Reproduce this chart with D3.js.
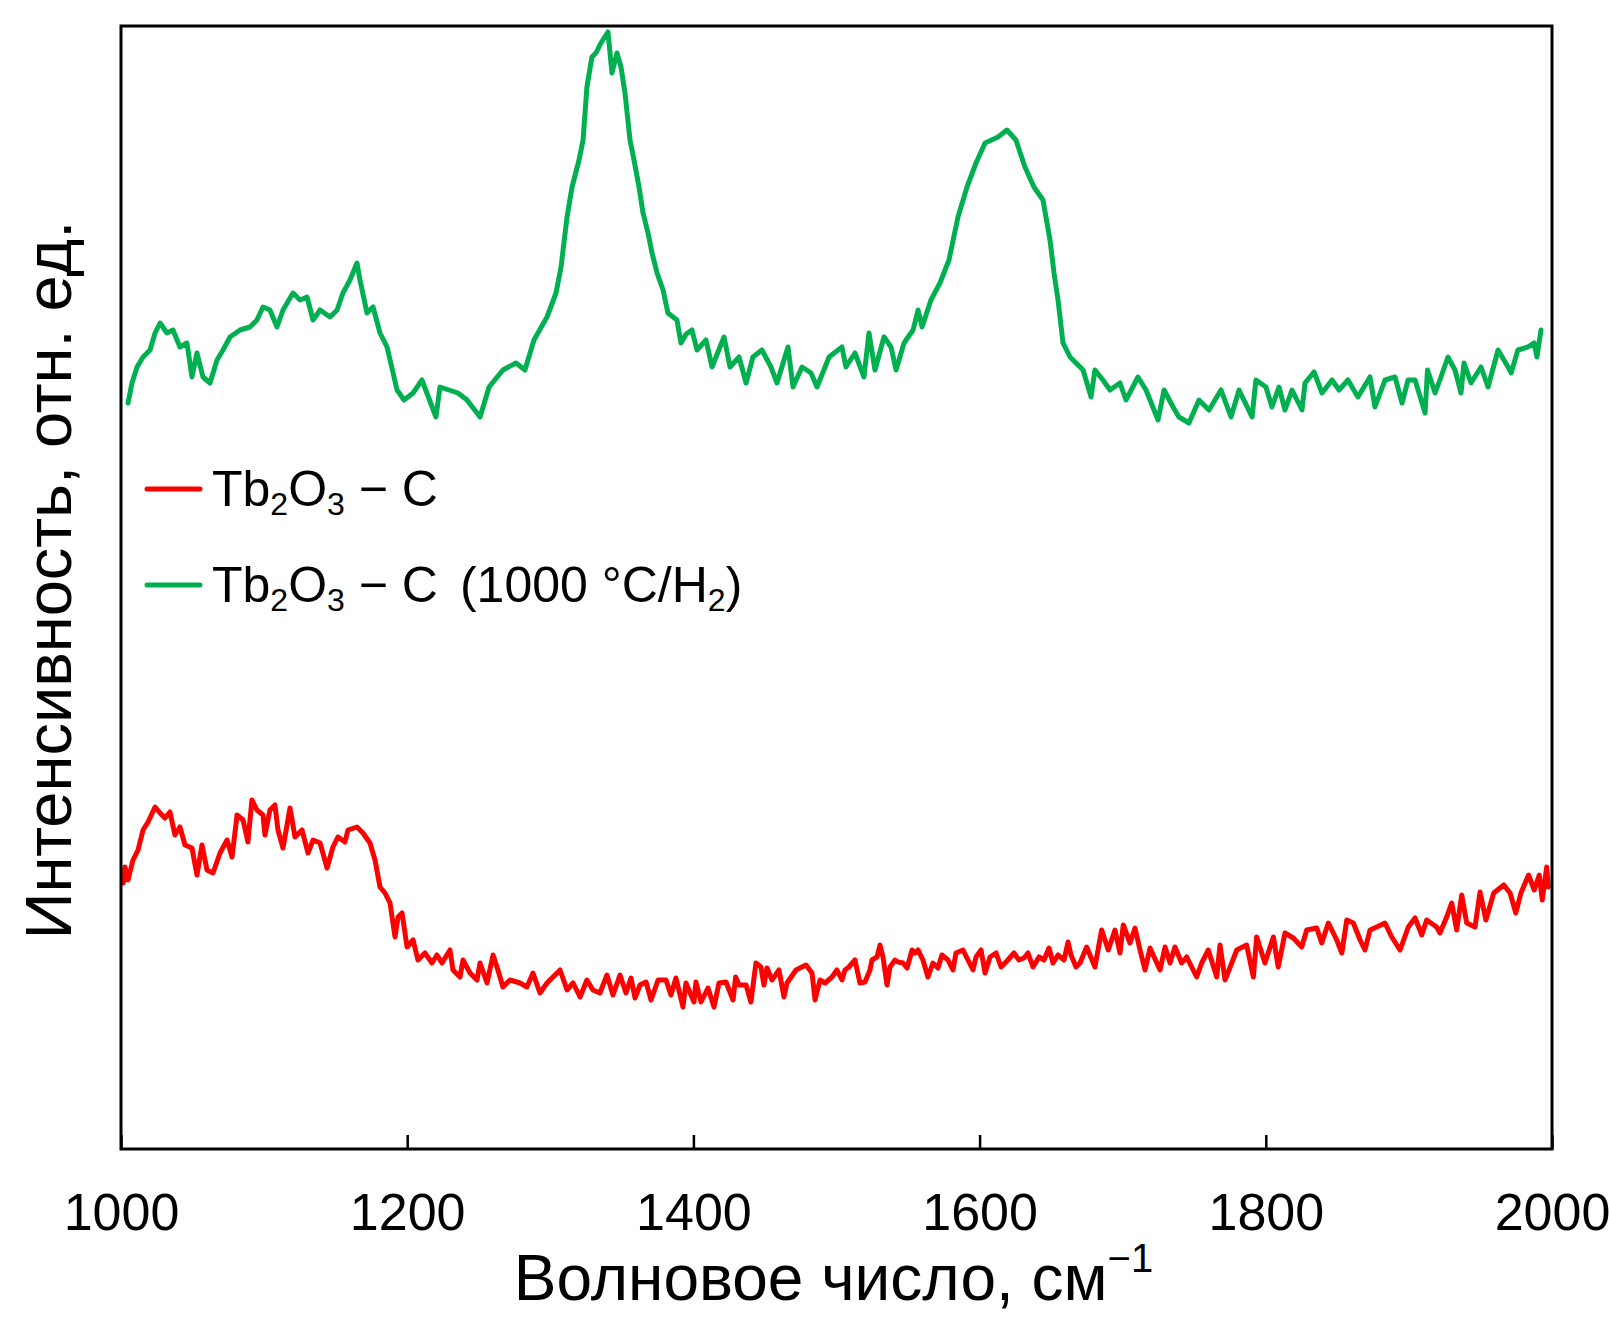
<!DOCTYPE html>
<html>
<head>
<meta charset="utf-8">
<script src="https://cdn.jsdelivr.net/npm/d3@7"></script>
<style>
  body { margin: 0; background: #fff; }
  svg { display: block; }
  text { font-family: "Liberation Sans", Arial, sans-serif; fill: #000; }
</style>
</head>
<body>
<div id="chart"></div>
<script>
// wavenumber ticks, cm^-1
const xTicks = [1000, 1200, 1400, 1600, 1800, 2000];

// Tb2O3 - C (red)
const redWave = [1001.6,1002.8,1004.9,1008.4,1011.9,1015.4,1018.9,1023.8,1027.3,1030.7,1034.2,1037.7,1041.2,1044.7,1049.6,1053.1,1056.6,1060.1,1064.3,1069.2,1074.1,1077.6,1081.1,1085.3,1088.7,1091.5,1095,1099.2,1100.6,1104.1,1107.6,1109.7,1113.2,1118.1,1121.6,1126.5,1130.7,1134.2,1139.1,1144,1148.1,1151.6,1156.5,1158.6,1164.9,1169.1,1174,1177.5,1181,1184.5,1188,1191.5,1193.6,1196.4,1199.9,1204.1,1207.5,1212.4,1217.3,1220.8,1224.3,1229.9,1232,1236.9,1239,1243.9,1248.8,1250.9,1255.8,1260,1263.4,1266.9,1271.8,1278.8,1283.7,1287.9,1292.8,1297.7,1301.9,1306.8,1311.7,1315.9,1320.8,1325.6,1329.8,
  1334.7,1339.6,1343.8,1348.7,1352.9,1356.4,1359.2,1362.7,1366.9,1370.4,1375.3,1380.9,1384.3,1387.8,1392.7,1394.8,1400.4,1401.8,1405.3,1410.2,1414.4,1417.9,1422.8,1427.7,1429.5,1431.9,1436.8,1440.2,1443.7,1447.2,1449.3,1451.4,1454.9,1459.8,1463.3,1465.4,1471.7,1478.7,1482.9,1485,1488.5,1492,1496.9,1500.3,1503.8,1505.9,1508.7,1512.9,1516.4,1519.9,1523.4,1524.8,1528.3,1530.4,1532.5,1535.3,1537.4,1540.9,1543,1546.5,1549.3,1552.8,1554.9,1557,1560.4,1563.9,1567.4,1570.9,1573.7,1577.9,1581.4,1583.5,1588.4,1591.9,1595.4,1597.5,1601,1603.8,1607.3,1611.5,1615,1619.8,1624,1627.5,1631,1633.8,1637.3,1641.5,1645,1648.5,1651.3,1654.8,1659,1661.8,1663.9,1667.4,
  1670.2,1674.8,1680.6,1685.3,1689.9,1694.6,1698.1,1700.4,1705.1,1708.6,1712.1,1715.6,1719.1,1726.1,1729.6,1733.1,1736.5,1741.2,1744.7,1751.7,1755.2,1759.8,1765.7,1768,1771.5,1776.2,1779.7,1786.6,1791.3,1793.6,1799.4,1805.3,1808.7,1813.4,1819.2,1825.1,1828.6,1835.6,1839.1,1843.7,1849.6,1853.1,1856.6,1861.2,1865.9,1869.3,1872.8,1877.5,1883.3,1888,1893.8,1899.6,1904.3,1909,1912.4,1919.4,1921.7,1926.4,1929.9,1933.4,1936.9,1940.4,1946.2,1949.7,1953.8,1959.3,1966.3,1970.7,1974.7,1978.3,1983.6,1987.6,1991.1,1993.2,1996.3,1997.4];
const redInt = [266,282,269,289,299,319,327,342,336,331,337,314,322,304,301,274,304,279,276,296,309,292,334,329,307,349,339,334,314,339,344,319,301,341,312,319,296,309,306,281,302,312,307,319,322,316,306,289,262,256,246,212,232,236,202,209,189,196,186,194,186,199,179,172,189,176,169,186,166,194,179,162,169,166,162,176,156,166,172,179,159,166,152,169,159,
  156,174,154,174,156,171,151,164,167,149,169,169,154,171,142,166,147,167,147,161,142,166,167,149,172,164,164,147,186,182,164,181,169,179,152,166,179,184,176,149,169,166,172,179,169,179,182,189,166,167,179,189,192,204,192,164,182,189,187,186,181,199,196,199,189,172,186,181,194,189,179,196,199,189,179,192,199,176,192,196,182,189,196,189,191,196,182,192,189,201,186,194,189,207,194,182,
  186,202,182,219,199,219,196,224,206,221,199,179,201,179,202,186,202,186,192,172,186,199,172,204,169,186,199,204,172,212,186,212,182,216,211,202,219,221,206,226,209,196,229,226,209,199,219,222,226,212,199,222,231,214,229,222,216,232,246,219,254,226,222,257,229,256,264,256,236,256,274,259,274,249,282,262];

// Tb2O3 - C (1000 °C/H2) (green)
const greenWave = [1004.9,1007.7,1011.2,1015.4,1020.3,1023.8,1027.3,1032.1,1036.3,1041.2,1046.1,1049.6,1053.1,1057.3,1062.2,1067.1,1071.3,1076.2,1083.2,1090.1,1095,1099.2,1104.1,1109,1113.2,1120.2,1125.1,1130,1134.2,1139.1,1146.1,1151,1155.1,1160,1164.9,1167,1171.9,1176.1,1181,1185.9,1192.9,1197.8,1204.1,1210.3,1220.1,1222.9,1235.5,1241.8,1250.9,1257.2,1266.9,1276,1282.3,1288.6,1297.7,1304,1307.5,1311.7,1315.2,1320.1,1322.9,1325.6,1329.1,1331.9,1335.4,1340.3,1343.1,1346.6,1349.4,1352.2,1355.7,1358.5,1362,1364.8,1368.3,1371.1,1374.6,1378.8,1382.2,1388.5,1391.3,1395,
  1399,1402.5,1408.8,1413,1421.4,1425.6,1431.9,1436.8,1441.6,1447.9,1454.2,1458.4,1466.1,1469.6,1475.9,1482.2,1486.4,1494.8,1503.8,1506.6,1512.9,1519.2,1522.7,1526.9,1533.2,1538.1,1541.6,1547.2,1553.5,1557,1559.8,1566,1572.3,1578.6,1584.9,1591.2,1597.5,1603.8,1612.9,1619.1,1625.4,1631.7,1638,1644.3,1649.2,1652,1654.8,1658.3,1663.2,1672.3,
  1677.9,1680.6,1686.2,1691.1,1698.1,1702.3,1710.7,1716.3,1724.7,1728.9,1735.2,1739.3,1746.3,1753.3,1760.3,1768.7,1775.7,1781.3,1790.4,1793.1,1800.1,1804.3,1809.2,1813.4,1818.3,1825.3,1827.4,1833.7,1839.3,1846.3,1851.2,1857.4,1864.4,1872.8,1876.3,1883.3,1890.3,1895.2,1899.4,1904.3,1911.3,1913,1918.3,1922.4,1927.3,1932.2,1936.4,1938.5,1943.4,1950.4,1955.3,1962.3,1969.3,1971.4,1976.2,1983.2,1987.4,1989.5,1992.3];
const greenInt = [746,766,782,792,799,816,826,816,819,802,806,772,796,772,766,789,799,812,819,822,829,842,839,822,839,856,849,852,829,839,832,839,856,869,886,869,836,842,816,802,759,749,756,769,732,762,756,749,732,762,779,786,779,809,832,856,882,932,962,989,1009,1062,1092,1096,1106,1117,1076,1096,1082,1056,1009,989,962,936,916,896,876,859,836,829,806,815,
  819,799,809,782,812,782,792,766,792,799,782,766,802,762,782,776,762,792,802,782,796,772,816,779,812,802,779,806,819,839,822,849,866,889,932,962,986,1006,1012,1019,1009,982,962,949,909,876,849,806,792,779,
  752,779,769,759,766,749,772,759,729,759,742,732,726,749,739,759,732,759,732,769,762,742,762,739,759,739,766,777,756,769,759,769,752,772,742,769,772,746,769,769,736,779,756,772,792,779,756,786,766,782,762,799,782,776,799,802,806,792,819];

const legendColors = ['#ff0000', '#00b050'];
const legendSuffix = ['', '(1000 °C/H'];

window.ramanChart = (() => {
    const W = 1609, H = 1317;
    const margin = { left: 121, right: 57, top: 26, bottom: 168 };
    const innerW = W - margin.left - margin.right;
    const innerH = H - margin.top - margin.bottom;

    function render() {
        const svg = d3.select('#chart').append('svg')
            .attr('width', W)
            .attr('height', H);

        svg.append('rect').attr('width', W).attr('height', H).attr('fill', '#fff');

        const x = d3.scaleLinear().domain([1000, 2000]).range([margin.left, margin.left + innerW]);
        const y = d3.scaleLinear().domain([0, 1123]).range([margin.top + innerH, margin.top]);

        const line = d3.line()
            .x(d => x(d[0]))
            .y(d => y(d[1]));

        const series = [
            { color: legendColors[0], data: redWave.map((w, i) => [w, redInt[i]]) },
            { color: legendColors[1], data: greenWave.map((w, i) => [w, greenInt[i]]) }
        ];

        svg.selectAll('.spectrum')
            .data(series)
            .enter()
            .append('path')
            .attr('class', 'spectrum')
            .attr('d', d => line(d.data))
            .attr('fill', 'none')
            .attr('stroke', d => d.color)
            .attr('stroke-width', 5)
            .attr('stroke-linejoin', 'round')
            .attr('stroke-linecap', 'round');

        // bottom axis, ticks pointing inward
        const xAxis = svg.append('g')
            .attr('transform', `translate(0,${margin.top + innerH})`)
            .call(d3.axisBottom(x).tickValues(xTicks).tickFormat(d3.format('d'))
                .tickSizeInner(-14).tickSizeOuter(0).tickPadding(44));
        xAxis.select('.domain').remove();
        xAxis.selectAll('.tick line').attr('stroke', '#000').attr('stroke-width', 2.5);
        xAxis.selectAll('.tick text')
            .attr('font-family', '"Liberation Sans", Arial, sans-serif')
            .attr('font-size', 52)
            .attr('fill', '#000');

        // frame
        svg.append('rect')
            .attr('x', margin.left)
            .attr('y', margin.top)
            .attr('width', innerW)
            .attr('height', innerH)
            .attr('fill', 'none')
            .attr('stroke', '#000')
            .attr('stroke-width', 3);

        // axis titles
        const xt = svg.append('text')
            .attr('x', margin.left + innerW / 2 - 3)
            .attr('y', 1300)
            .attr('text-anchor', 'middle')
            .attr('font-size', 64);
        xt.append('tspan').text('Волновое число, см');
        xt.append('tspan').attr('font-size', 40).attr('dy', -28).text('−1');

        svg.append('text')
            .attr('transform', 'translate(71,580) rotate(-90)')
            .attr('text-anchor', 'middle')
            .attr('font-size', 65)
            .text('Интенсивность, отн. ед.');

        // legend
        const legendY = [489, 585];
        legendColors.forEach((c, i) => {
            svg.append('line')
                .attr('x1', 147).attr('x2', 200)
                .attr('y1', legendY[i]).attr('y2', legendY[i])
                .attr('stroke', c)
                .attr('stroke-width', 5)
                .attr('stroke-linecap', 'round');

            const t = svg.append('text')
                .attr('x', 212)
                .attr('y', legendY[i] + 17)
                .attr('font-size', 50);
            t.append('tspan').text('Tb');
            t.append('tspan').attr('font-size', 32).attr('dy', 9).text('2');
            t.append('tspan').attr('dy', -9).text('O');
            t.append('tspan').attr('font-size', 32).attr('dy', 9).text('3');
            t.append('tspan').attr('dy', -9).text(' − C');
            if (legendSuffix[i]) {
                t.append('tspan').attr('dx', 22).text(legendSuffix[i]);
                t.append('tspan').attr('font-size', 32).attr('dy', 9).text('2');
                t.append('tspan').attr('dy', -9).text(')');
            }
        });
    }

    return Object.freeze({ render });
})();

window.ramanChart.render();
</script>
</body>
</html>
